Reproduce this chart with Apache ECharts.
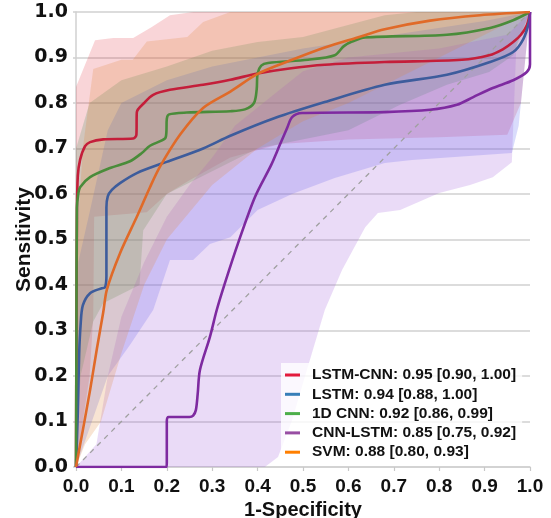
<!DOCTYPE html>
<html>
<head>
<meta charset="utf-8">
<script src="https://cdn.jsdelivr.net/npm/echarts@6/dist/echarts.min.js"></script>
<style>html,body{margin:0;padding:0;background:#fff}#c{width:551px;height:518px}</style>
</head>
<body>
<div id="c"></div>
<script>
// ---- data ----
const seriesNames = ['LSTM-CNN: 0.95 [0.90, 1.00]', 'LSTM: 0.94 [0.88, 1.00]', '1D CNN: 0.92 [0.86, 0.99]', 'CNN-LSTM: 0.85 [0.75, 0.92]', 'SVM: 0.88 [0.80, 0.93]'];
const xTickValues = [0, 0.1, 0.2, 0.3, 0.4, 0.5, 0.6, 0.7, 0.8, 0.9, 1.0];
const yTickValues = [0, 0.1, 0.2, 0.3, 0.4, 0.5, 0.6, 0.7, 0.8, 0.9, 1.0];
const diagonal = [[0, 0], [1, 1]];

const lstmCnnRoc = [[0,0],[0.002,0.55],[0.004,0.64],[0.009,0.675],[0.02,0.705],[0.031,0.714],[0.06,0.72],[0.126,0.722],[0.133,0.73],[0.134,0.78],[0.15,0.80],[0.17,0.818],[0.207,0.829],[0.28,0.84],[0.34,0.851],[0.4,0.865],[0.47,0.876],[0.548,0.884],[0.68,0.89],[0.85,0.895],[0.91,0.905],[0.94,0.918],[0.963,0.934],[0.98,0.95],[0.993,0.971],[1,1]];
const lstmRoc = [[0,0],[0.004,0.12],[0.007,0.25],[0.01,0.31],[0.015,0.355],[0.031,0.382],[0.057,0.393],[0.064,0.395],[0.067,0.42],[0.067,0.57],[0.07,0.595],[0.079,0.609],[0.097,0.624],[0.134,0.646],[0.192,0.668],[0.207,0.673],[0.28,0.70],[0.34,0.728],[0.438,0.767],[0.548,0.802],[0.68,0.84],[0.817,0.862],[0.912,0.89],[0.963,0.912],[0.985,0.94],[0.997,0.975],[1,1]];
const cnn1dRoc = [[0,0],[0.001,0.3],[0.002,0.57],[0.005,0.6],[0.009,0.615],[0.031,0.637],[0.075,0.657],[0.119,0.672],[0.145,0.69],[0.163,0.706],[0.196,0.722],[0.199,0.735],[0.2,0.765],[0.205,0.775],[0.244,0.779],[0.34,0.782],[0.372,0.786],[0.392,0.8],[0.398,0.83],[0.4,0.865],[0.408,0.882],[0.423,0.888],[0.511,0.895],[0.57,0.905],[0.59,0.925],[0.608,0.935],[0.637,0.944],[0.817,0.95],[0.912,0.965],[0.963,0.982],[1,1]];
const cnnLstmRoc = [[0,0],[0.199,0],[0.2,0.01],[0.2,0.1],[0.204,0.11],[0.25,0.11],[0.258,0.113],[0.264,0.125],[0.268,0.16],[0.273,0.213],[0.295,0.286],[0.31,0.345],[0.328,0.404],[0.357,0.492],[0.394,0.593],[0.43,0.664],[0.449,0.708],[0.465,0.745],[0.476,0.769],[0.498,0.778],[0.68,0.78],[0.78,0.785],[0.839,0.796],[0.875,0.813],[0.918,0.833],[0.963,0.85],[0.993,0.868],[1,0.885],[1,1]];
const svmRoc = [[0,0],[0.015,0.081],[0.031,0.169],[0.046,0.26],[0.06,0.34],[0.068,0.39],[0.097,0.47],[0.134,0.55],[0.163,0.615],[0.185,0.66],[0.229,0.73],[0.28,0.789],[0.34,0.825],[0.4,0.864],[0.476,0.895],[0.548,0.922],[0.62,0.944],[0.68,0.962],[0.78,0.981],[0.89,0.993],[1,1]];

// confidence bands (upper / lower edges)
const lstmCnnUpper = [[0,0],[0,0.835],[0.042,0.938],[0.082,0.943],[0.126,0.943],[0.167,0.967],[0.207,0.993],[0.258,1],[1,1]];
const lstmCnnLower = [[0,0],[0.012,0.08],[0.03,0.2],[0.038,0.33],[0.04,0.55],[0.156,0.56],[0.2,0.6],[0.25,0.63],[0.34,0.68],[0.45,0.71],[0.6,0.72],[0.8,0.725],[0.95,0.73],[0.98,0.8],[1,1]];
const lstmUpper = [[0,0],[0.005,0.45],[0.03,0.56],[0.07,0.74],[0.1,0.8],[0.2,0.85],[0.3,0.88],[0.5,0.92],[0.7,0.95],[0.9,0.98],[1,1]];
const lstmLower = [[0,0],[0.07,0.2],[0.12,0.27],[0.17,0.345],[0.207,0.455],[0.258,0.455],[0.295,0.49],[0.34,0.505],[0.4,0.565],[0.476,0.6],[0.57,0.635],[0.68,0.668],[0.74,0.675],[0.96,0.69],[0.975,0.75],[1,1]];
const cnn1dUpper = [[0,0],[0,0.7],[0.03,0.8],[0.1,0.85],[0.2,0.88],[0.3,0.915],[0.4,0.934],[0.5,0.945],[0.68,0.993],[0.75,1],[1,1]];
const cnn1dLower = [[0,0],[0.01,0.2],[0.038,0.32],[0.06,0.36],[0.14,0.4],[0.148,0.52],[0.2,0.6],[0.3,0.65],[0.4,0.7],[0.6,0.74],[0.714,0.796],[0.817,0.84],[0.91,0.868],[0.963,0.905],[1,1]];
const cnnLstmUpper = [[0,0],[0.045,0.05],[0.07,0.2],[0.1,0.33],[0.15,0.45],[0.2,0.55],[0.25,0.62],[0.3,0.68],[0.35,0.75],[0.45,0.83],[0.5,0.87],[0.6,0.9],[0.8,0.92],[0.95,0.95],[1,1]];
const cnnLstmLower = [[0,0],[0.416,0],[0.445,0.022],[0.476,0.103],[0.504,0.198],[0.548,0.345],[0.586,0.433],[0.637,0.527],[0.665,0.558],[0.714,0.565],[0.8,0.602],[0.868,0.62],[0.918,0.637],[0.96,0.67],[0.97,0.93],[1,1]];
const svmUpper = [[0,0],[0.002,0.5],[0.015,0.7],[0.038,0.875],[0.1,0.895],[0.125,0.895],[0.156,0.935],[0.245,0.945],[0.28,0.978],[0.34,1],[1,1]];
const svmLower = [[0,0],[0.02,0.05],[0.055,0.1],[0.1,0.25],[0.15,0.4],[0.2,0.5],[0.3,0.62],[0.4,0.7],[0.5,0.76],[0.6,0.8],[0.7,0.85],[0.8,0.9],[0.9,0.95],[1,1]];

const lineColors = ['#c41e3a', '#3d5c9c', '#4a8c3a', '#7e2aa0', '#e06a28'];
const legendColors = ['#e31a3c', '#377eb8', '#4daf4a', '#984ea3', '#ff7f00'];
const bandColors = ['rgba(225,30,50,0.19)', 'rgba(80,95,240,0.22)', 'rgba(70,140,90,0.22)', 'rgba(160,90,220,0.22)', 'rgba(225,130,55,0.22)'];

const rocs = [lstmCnnRoc, lstmRoc, cnn1dRoc, cnnLstmRoc, svmRoc];
const bands = [[lstmCnnUpper, lstmCnnLower], [lstmUpper, lstmLower], [cnn1dUpper, cnn1dLower], [cnnLstmUpper, cnnLstmLower], [svmUpper, svmLower]];

// ---- chart ----
const chart = echarts.init(document.getElementById('c'), null, {renderer: 'canvas'});

function bandSeries(upper, lower, color) {
  return {
    type: 'custom',
    silent: true,
    clip: true,
    z: 1,
    data: [0],
    renderItem: function (params, api) {
      const pts = upper.map(p => api.coord(p)).concat(lower.slice().reverse().map(p => api.coord(p)));
      return {type: 'polygon', shape: {points: pts}, style: {fill: color}};
    }
  };
}

const series = [];
bands.forEach((b, i) => series.push(bandSeries(b[0], b[1], bandColors[i])));
series.push({
  type: 'line', data: diagonal, silent: true, symbol: 'none', z: 2,
  lineStyle: {color: '#a0a0a0', width: 1.3, type: [5, 5]}
});
rocs.forEach((d, i) => series.push({
  name: seriesNames[i], type: 'line', data: d, symbol: 'none', smooth: 0.3, z: 3,
  color: legendColors[i],
  lineStyle: {color: lineColors[i], width: 2.6}
}));

const tickFontX = {fontFamily: 'Liberation Sans, Arial, sans-serif', fontWeight: 'bold', fontSize: 19, color: '#111'};
const tickFontY = {fontFamily: 'DejaVu Sans, sans-serif', fontWeight: 'bold', fontSize: 19, color: '#111'};

chart.setOption({
  animation: false,
  backgroundColor: '#fff',
  grid: {left: 76, right: 21, top: 12, bottom: 51, containLabel: false, outerBoundsMode: 'none'},
  xAxis: {
    type: 'value', min: 0, max: 1, interval: 0.1,
    name: '1-Specificity', nameLocation: 'middle', nameGap: 30,
    nameTextStyle: {fontFamily: 'Liberation Sans, Arial, sans-serif', fontWeight: 'bold', fontSize: 20, color: '#111'},
    axisLine: {show: true, onZero: false, lineStyle: {color: '#d0d0d0', width: 1.5}},
    axisTick: {show: true, length: 4, lineStyle: {color: '#c8c8c8', width: 1.2}},
    axisLabel: Object.assign({margin: 10, formatter: v => v.toFixed(1)}, tickFontX),
    splitLine: {show: false}
  },
  yAxis: {
    type: 'value', min: 0, max: 1, interval: 0.1,
    name: 'Sensitivity', nameLocation: 'middle', nameGap: 41, nameMoveOverlap: false,
    nameTextStyle: {fontFamily: 'Liberation Sans, Arial, sans-serif', fontWeight: 'bold', fontSize: 21, color: '#111'},
    axisLine: {show: true, onZero: false, lineStyle: {color: '#d0d0d0', width: 1.5}},
    axisTick: {show: true, length: 3, lineStyle: {color: '#d0d0d0', width: 1.5}},
    axisLabel: Object.assign({margin: 8, formatter: v => v.toFixed(1)}, tickFontY),
    splitLine: {show: true, lineStyle: {color: '#dcdcdc', width: 1.8}}
  },
  legend: {
    orient: 'vertical', left: 281, top: 363,
    backgroundColor: 'rgba(255,255,255,0.8)', padding: [4, 6, 4, 4],
    icon: 'rect', itemWidth: 15, itemHeight: 3, itemGap: 3.3,
    textStyle: {fontFamily: 'Liberation Sans, Arial, sans-serif', fontWeight: 'bold', fontSize: 15.5, color: '#111', lineHeight: 16, padding: [0, 0, 0, 7]},
    data: seriesNames.map((n, i) => ({name: n, itemStyle: {color: legendColors[i], opacity: 1}}))
  },
  series: series
});
</script>
</body>
</html>
